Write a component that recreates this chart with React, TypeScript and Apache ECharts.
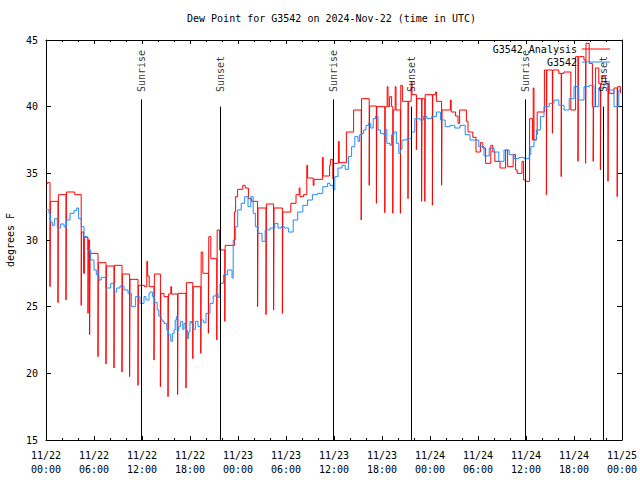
import React, { useEffect, useRef } from "react";
import * as echarts from "echarts";

// Hours since 2024-11-22 00:00 UTC -> dew point (°F)
const analysisPoints: [number, number][] = [
  [0.0, 34.2], [0.17, 34.3], [0.5, 26.5], [0.55, 32.9], [1.5, 25.3], [1.55, 33.4],
  [2.5, 25.5], [2.55, 33.6], [3.6, 33.4], [4.4, 25.1], [4.45, 30.6], [4.7, 27.5],
  [4.8, 30.2], [5.25, 24.5], [5.3, 30.0], [5.45, 22.9], [5.5, 29.0], [6.5, 21.25],
  [6.55, 28.3], [7.5, 20.7], [7.55, 28.05], [8.5, 20.4], [8.55, 28.1], [9.5, 20.1],
  [9.55, 27.45], [10.45, 19.75], [10.5, 27.05], [11.5, 19.1], [11.55, 26.6], [12.3, 26.5],
  [12.6, 28.4], [12.7, 27.3], [12.9, 26.5], [13.5, 21.0], [13.55, 27.45], [14.3, 19.0],
  [14.35, 26.0], [14.75, 25.75], [15.25, 18.25], [15.3, 25.95], [15.6, 26.5], [15.7, 25.95],
  [16.45, 18.4], [16.5, 26.0], [17.5, 18.9], [17.55, 26.8], [18.35, 21.1], [18.4, 26.5],
  [19.35, 21.5], [19.4, 29.1], [19.6, 27.5], [20.3, 23.0], [20.35, 30.25], [20.6, 28.6],
  [21.35, 22.5], [21.4, 30.75], [21.7, 29.25], [22.35, 23.9], [22.4, 29.6], [23.55, 32.1],
  [23.7, 33.25], [23.95, 33.8], [24.6, 34.1], [24.9, 33.9], [25.3, 33.1], [25.7, 32.9],
  [26.45, 25.0], [26.5, 32.4], [27.5, 24.4], [27.55, 32.7], [28.45, 24.75], [28.5, 32.4],
  [29.55, 24.5], [29.6, 32.1], [30.6, 32.75], [31.25, 33.4], [31.65, 33.9], [31.75, 33.25],
  [32.2, 33.4], [32.6, 35.6], [32.7, 34.65], [33.4, 34.1], [33.5, 34.55], [34.55, 36.2],
  [34.65, 34.8], [35.45, 35.6], [35.55, 36.05], [35.85, 34.6], [35.95, 35.75], [36.55, 37.4],
  [36.65, 35.8], [37.55, 38.1], [38.45, 39.75], [39.4, 31.5], [39.45, 40.6],
  [40.4, 34.1], [40.45, 40.05], [41.3, 32.75], [41.35, 40.0], [42.35, 32.05], [42.4, 40.0],
  [42.65, 41.5], [42.75, 40.0], [42.95, 40.75], [43.2, 40.0], [43.35, 32.0], [43.4, 39.75],
  [43.65, 41.5], [43.75, 39.75], [44.3, 32.0], [44.35, 41.6], [44.55, 40.4], [45.25, 33.1],
  [45.3, 40.4], [45.65, 41.9], [45.75, 40.9], [46.3, 36.75], [46.35, 40.6], [46.95, 32.9],
  [47.0, 40.6], [47.35, 32.9], [47.4, 40.9], [48.3, 32.6], [48.35, 40.9], [48.7, 41.1],
  [48.8, 40.4], [49.45, 34.1], [49.5, 39.75], [50.55, 40.5], [50.65, 39.6], [51.2, 39.3],
  [51.5, 38.75], [51.7, 39.75], [52.55, 38.9], [52.75, 38.1], [53.35, 37.7], [53.75, 36.6],
  [53.9, 36.6], [54.3, 37.3], [54.6, 36.9], [54.95, 35.75], [55.6, 37.1], [55.85, 36.6],
  [56.1, 35.9], [56.75, 35.4], [57.45, 36.75], [57.7, 35.5], [58.4, 36.4], [58.7, 35.25],
  [58.9, 35.0], [59.5, 35.9], [59.7, 34.5], [59.95, 34.4], [60.45, 39.1], [60.8, 37.5],
  [60.9, 41.4], [61.0, 37.5], [61.3, 37.9], [61.4, 39.6], [62.3, 42.75], [62.55, 33.4],
  [62.6, 42.75], [63.3, 38.0], [63.35, 42.75], [64.1, 42.5], [64.4, 34.75], [64.45, 42.5],
  [64.75, 42.6], [65.6, 39.75], [66.2, 43.75], [66.5, 35.9], [66.55, 43.75], [67.25, 43.5],
  [67.45, 35.75], [67.5, 44.75], [67.9, 43.25], [68.3, 40.0], [68.4, 35.9], [68.45, 40.0],
  [68.7, 42.9], [69.1, 41.75], [69.3, 35.25], [69.35, 41.75], [69.5, 42.25], [69.95, 41.75],
  [70.25, 34.4], [70.3, 41.75], [70.4, 41.0], [71.0, 41.4], [71.4, 33.25], [71.45, 41.5],
  [71.8, 41.0],
];

const observedPoints: [number, number][] = [
  [0.0, 32.3], [0.17, 32.25], [0.375, 32.0], [0.58, 31.35], [0.79, 31.1], [1.08, 31.6],
  [1.42, 30.9], [1.83, 31.2], [2.25, 31.0], [2.58, 31.5], [3.0, 32.0], [3.5, 32.2],
  [3.83, 32.4], [4.08, 31.6], [4.42, 31.0], [4.75, 30.25], [5.17, 29.25], [5.58, 28.5],
  [6.0, 27.75], [6.29, 27.4], [6.63, 27.0], [6.9, 27.2], [7.46, 26.4], [8.08, 26.75],
  [8.5, 26.1], [8.83, 26.4], [9.25, 26.55], [9.75, 26.25], [10.25, 26.0], [10.67, 25.0],
  [11.2, 25.75], [11.75, 25.25], [12.25, 25.75], [12.5, 25.5], [12.875, 26.0], [13.0, 26.1],
  [13.3, 25.75], [13.6, 25.3], [13.9, 24.75], [14.1, 24.3], [14.4, 24.0], [14.6, 23.9],
  [14.75, 23.75], [15.1, 23.25], [15.3, 22.9], [15.6, 22.4], [15.8, 23.0], [16.0, 23.25],
  [16.15, 24.0], [16.3, 24.25], [16.4, 23.2], [16.6, 23.5], [16.8, 23.9], [17.1, 23.3],
  [17.25, 23.75], [17.46, 23.25], [17.67, 22.6], [17.8, 23.1], [18.0, 23.9], [18.2, 23.75],
  [18.4, 23.3], [18.67, 23.9], [19.0, 23.5], [19.4, 24.0], [19.7, 23.8], [20.0, 24.5],
  [20.5, 25.25], [20.9, 25.8], [21.25, 26.0], [21.5, 25.7], [21.75, 26.75], [22.2, 27.4],
  [22.7, 27.75], [23.25, 27.15], [23.4, 30.0], [23.7, 31.0], [23.96, 32.25], [24.4, 32.75],
  [24.83, 33.25], [25.25, 32.5], [25.6, 33.25], [25.9, 32.0], [26.17, 31.0], [26.5, 30.5],
  [27.0, 29.9], [27.4, 30.75], [28.0, 30.9], [28.6, 31.25], [29.0, 30.9], [29.4, 31.0],
  [29.8, 30.9], [30.3, 30.6], [30.9, 31.5], [31.46, 32.1], [32.1, 32.6], [32.7, 33.0],
  [33.3, 33.4], [33.96, 33.5], [34.6, 34.0], [35.2, 34.25], [35.5, 34.1], [35.9, 33.75],
  [36.1, 34.75], [36.5, 35.4], [37.0, 35.6], [37.4, 35.3], [37.8, 36.25], [38.2, 37.0],
  [38.6, 37.75], [39.0, 37.4], [39.2, 37.9], [39.5, 38.0], [39.7, 38.25], [40.0, 38.6],
  [40.3, 38.75], [40.6, 38.4], [40.9, 39.1], [41.2, 39.3], [41.5, 38.25], [41.8, 38.0],
  [42.2, 37.9], [42.4, 38.3], [42.6, 37.25], [43.0, 37.1], [43.2, 37.9], [43.5, 38.1],
  [43.8, 37.25], [44.1, 36.5], [44.3, 36.8], [44.5, 37.5], [45.1, 37.6], [45.7, 38.1],
  [46.1, 39.1], [46.75, 39.0], [47.2, 39.3], [47.6, 39.1], [48.2, 39.25], [48.8, 39.6],
  [49.3, 39.0], [49.9, 38.5], [50.5, 38.6], [51.1, 38.4], [51.75, 38.6], [52.4, 37.9],
  [53.0, 37.5], [53.5, 37.5], [54.1, 37.0], [54.75, 36.3], [55.4, 36.9], [56.0, 36.6],
  [56.6, 35.9], [57.25, 36.75], [57.9, 36.4], [58.5, 36.1], [59.1, 36.2], [59.75, 36.1],
  [60.4, 36.4], [60.6, 37.0], [61.0, 37.5], [61.3, 38.25], [61.8, 39.25], [62.25, 40.0],
  [62.9, 40.25], [63.5, 40.5], [64.1, 40.1], [64.75, 39.75], [65.4, 40.6], [66.0, 41.5],
  [66.6, 40.5], [67.25, 41.5], [67.9, 41.6], [68.5, 40.0], [69.1, 41.4], [69.75, 41.9],
  [70.4, 41.25], [71.0, 40.0], [71.6, 41.25], [71.8, 41.25],
];

const sunEvents = [
  { name: "Sunrise", hour: 11.96 },
  { name: "Sunset", hour: 21.75 },
  { name: "Sunrise", hour: 35.91 },
  { name: "Sunset", hour: 45.66 },
  { name: "Sunrise", hour: 59.96 },
  { name: "Sunset", hour: 69.66 },
];

const tickLabels = [
  "11/22\n00:00", "11/22\n06:00", "11/22\n12:00", "11/22\n18:00",
  "11/23\n00:00", "11/23\n06:00", "11/23\n12:00", "11/23\n18:00",
  "11/24\n00:00", "11/24\n06:00", "11/24\n12:00", "11/24\n18:00",
  "11/25\n00:00",
];

const seriesNames = ["G3542 Analysis", "G3542"];
const seriesColors = ["#ff0000", "#1e8cff"];

const MONO = "'DejaVu Sans Mono', 'Liberation Mono', monospace";

export default function App() {
  const ref = useRef<HTMLDivElement>(null);

  useEffect(() => {
    if (!ref.current) return;
    const chart = echarts.init(ref.current, null, { renderer: "svg" });
    const txt = { fontFamily: MONO, fontSize: 10, color: "#000" };
    const black = { color: "#000", width: 1 };
    const lineTop: Record<string, number> = { Sunrise: 40.55, Sunset: 40.0 };
    const labelBase = 41.1;

    const xBase = {
      type: "value",
      min: 0,
      max: 72,
      interval: 6,
      axisLine: { show: true, onZero: false, lineStyle: black },
      axisTick: { show: true, inside: true, length: 4, lineStyle: black },
      minorTick: { show: true, splitNumber: 3, length: 2, lineStyle: black },
      splitLine: { show: false },
    };
    const yBase = {
      type: "value",
      min: 15,
      max: 45,
      interval: 5,
      axisLine: { show: true, onZero: false, lineStyle: black },
      axisTick: { show: true, inside: true, length: 5, lineStyle: black },
      splitLine: { show: false },
    };

    chart.setOption({
      animation: false,
      title: {
        text: "Dew Point for G3542 on 2024-Nov-22 (time in UTC)",
        left: 187,
        top: 13,
        padding: 0,
        textStyle: { ...txt, fontWeight: "normal" },
      },
      legend: {
        data: seriesNames.map((n, i) => ({
          name: n,
          icon: "rect",
          itemStyle: { color: seriesColors[i] },
        })),
        orient: "vertical",
        right: 30,
        top: 43,
        align: "right",
        itemWidth: 28,
        itemHeight: 1,
        itemGap: 1,
        padding: 0,
        selectedMode: false,
        textStyle: { ...txt, lineHeight: 12 },
      },
      grid: {
        left: 46,
        right: 18,
        top: 40,
        bottom: 40,
        containLabel: false,
        outerBoundsMode: "none",
      },
      xAxis: [
        {
          ...xBase,
          position: "bottom",
          axisLabel: {
            ...txt,
            margin: 8,
            lineHeight: 14,
            formatter: (v: number) => tickLabels[Math.round(v / 6)] ?? "",
          },
        },
        { ...xBase, position: "top", axisLabel: { show: false } },
      ],
      yAxis: [
        {
          ...yBase,
          position: "left",
          name: "degrees F",
          nameLocation: "middle",
          nameGap: 31,
          nameTextStyle: txt,
          axisLabel: { ...txt, margin: 8 },
        },
        { ...yBase, position: "right", axisLabel: { show: false } },
      ],
      series: [
        {
          name: seriesNames[0],
          type: "line",
          step: "end",
          symbol: "none",
          silent: true,
          lineStyle: { color: seriesColors[0], width: 1 },
          itemStyle: { color: seriesColors[0] },
          data: analysisPoints,
          z: 2,
        },
        {
          name: seriesNames[1],
          type: "line",
          step: "end",
          symbol: "none",
          silent: true,
          lineStyle: { color: seriesColors[1], width: 1 },
          itemStyle: { color: seriesColors[1] },
          data: observedPoints,
          z: 3,
        },
        {
          name: "sun",
          type: "scatter",
          symbolSize: 0,
          silent: true,
          z: 4,
          data: sunEvents.map((e) => ({ name: e.name, value: [e.hour, labelBase] })),
          label: {
            show: true,
            formatter: "{b}",
            position: [0, 0],
            rotate: 90,
            align: "left",
            verticalAlign: "middle",
            ...txt,
          },
          markLine: {
            silent: true,
            symbol: ["none", "none"],
            label: { show: false },
            lineStyle: { color: "#000", width: 1, type: "solid" },
            data: sunEvents.map((e) => [
              { coord: [e.hour, lineTop[e.name]] },
              { coord: [e.hour, 15] },
            ]),
          },
        },
      ],
    });
    return () => chart.dispose();
  }, []);

  return <div ref={ref} style={{ width: 640, height: 480, position: "absolute", left: 0, top: 0 }} />;
}
